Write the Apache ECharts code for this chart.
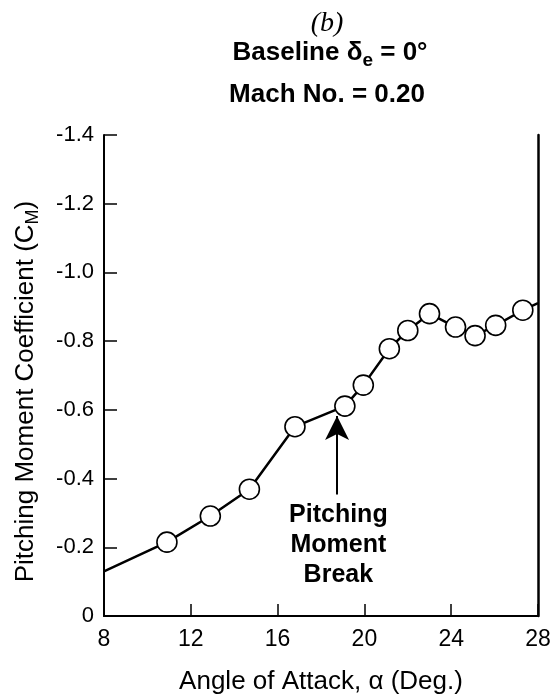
<!DOCTYPE html>
<html>
<head>
<meta charset="utf-8">
<script src="https://cdn.jsdelivr.net/npm/echarts@6/dist/echarts.min.js"></script>
<style>
  html, body { margin: 0; padding: 0; background: #fff; }
  #chart { width: 555px; height: 700px; }
</style>
</head>
<body>
<div id="chart"></div>
<script>
// angle of attack (deg) and pitching moment coefficient
const alpha = [8, 10.9, 12.9, 14.7, 16.8, 19.1, 19.95, 21.15, 22.0, 23.0, 24.2, 25.1, 26.05, 27.3, 28]
const cm = [-0.13, -0.215, -0.291, -0.369, -0.551, -0.611, -0.672, -0.778, -0.831, -0.880, -0.841, -0.816, -0.846, -0.890, -0.911]
// first and last points are just where the line leaves the frame (no marker)
const noMarker = [0, 14]
const xTicks = [8, 12, 16, 20, 24, 28]
const yTicks = [0, -0.2, -0.4, -0.6, -0.8, -1.0, -1.2, -1.4]
const breakArrow = [[18.74, -0.354], [18.74, -0.582]]
const breakLabelAt = [18.8, -0.206]

const font = 'Liberation Sans'
const chart = echarts.init(document.getElementById('chart'))

const seriesData = alpha.map((a, i) => {
  const item = { value: [a, cm[i]] }
  if (noMarker.includes(i)) item.symbol = 'none'
  return item
})

const option = {
  animation: false,
  backgroundColor: '#fff',
  graphic: [
    {
      type: 'text', x: 327, y: 24,
      style: { text: '(b)', font: 'italic 28px "Liberation Serif"', fill: '#000', align: 'center', verticalAlign: 'middle' }
    },
    {
      type: 'text', x: 330, y: 53,
      style: {
        text: '{b|Baseline δ}{s|e}{b| = 0°}',
        align: 'center', verticalAlign: 'middle',
        rich: {
          b: { fontFamily: font, fontWeight: 'bold', fontSize: 26, fill: '#000' },
          s: { fontFamily: font, fontWeight: 'bold', fontSize: 19, fill: '#000', padding: [16, 0, 0, 0] }
        }
      }
    },
    {
      type: 'text', x: 327, y: 95,
      style: { text: 'Mach No. = 0.20', font: 'bold 26px "Liberation Sans"', fill: '#000', align: 'center', verticalAlign: 'middle' }
    }
  ],
  grid: { left: 104, right: 17, top: 135, bottom: 83 },
  xAxis: [{
    type: 'value',
    min: xTicks[0], max: xTicks[xTicks.length - 1], interval: 4,
    name: 'Angle of Attack, α (Deg.)',
    nameLocation: 'middle', nameGap: 53,
    nameTextStyle: { fontFamily: font, fontSize: 26, color: '#000' },
    axisLine: { lineStyle: { color: '#000', width: 2 } },
    axisTick: { inside: true, length: 12, lineStyle: { color: '#000', width: 1.5 } },
    axisLabel: { fontFamily: font, fontSize: 23, color: '#000', margin: 12 },
    splitLine: { show: false }
  }, {
    type: 'value', position: 'top',
    min: xTicks[0], max: xTicks[xTicks.length - 1], interval: 4,
    axisLine: { lineStyle: { color: '#000', width: 1.5 } },
    axisTick: { show: false }, axisLabel: { show: false }, splitLine: { show: false }
  }],
  yAxis: [{
    type: 'value', inverse: true,
    min: yTicks[yTicks.length - 1], max: yTicks[0], interval: 0.2,
    name: '{t|Pitching Moment Coefficient (C}{s|M}{t|)}',
    nameLocation: 'middle', nameGap: 62,
    nameTextStyle: {
      padding: [0, 32, 0, 0],
      rich: {
        t: { fontFamily: font, fontSize: 26, color: '#000' },
        s: { fontFamily: font, fontSize: 18, color: '#000', padding: [14, 0, 0, 0] }
      }
    },
    axisLine: { lineStyle: { color: '#000', width: 2 } },
    axisTick: { inside: true, length: 13, lineStyle: { color: '#000', width: 1.5 } },
    axisLabel: {
      fontFamily: font, fontSize: 22, color: '#000', margin: 10,
      formatter: v => Math.abs(v) < 1e-9 ? '0' : v.toFixed(1)
    },
    splitLine: { show: false }
  }, {
    type: 'value', inverse: true, position: 'right',
    min: yTicks[yTicks.length - 1], max: yTicks[0], interval: 0.2,
    axisLine: { show: true, lineStyle: { color: '#000', width: 2.5 } },
    axisTick: { show: false }, axisLabel: { show: false }, splitLine: { show: false }
  }],
  series: [{
    type: 'line',
    data: seriesData,
    symbol: 'circle',
    symbolSize: 20,
    showAllSymbol: true,
    lineStyle: { color: '#000', width: 2.5 },
    itemStyle: { color: '#fff', borderColor: '#000', borderWidth: 1.6 },
    z: 3,
    markLine: {
      silent: true,
      symbol: ['none', 'arrow'],
      symbolSize: [18, 24],
      label: { show: false },
      lineStyle: { color: '#000', width: 2, type: 'solid' },
      data: [[{ coord: breakArrow[0] }, { coord: breakArrow[1] }]]
    },
    markPoint: {
      silent: true,
      symbol: 'circle', symbolSize: 1,
      itemStyle: { color: 'rgba(0,0,0,0)' },
      label: {
        show: true, position: 'inside',
        formatter: 'Pitching\nMoment\nBreak',
        fontFamily: font, fontWeight: 'bold', fontSize: 25, lineHeight: 30, color: '#000', align: 'center'
      },
      data: [{ coord: breakLabelAt }]
    }
  }]
}

chart.setOption(option)
</script>
</body>
</html>
